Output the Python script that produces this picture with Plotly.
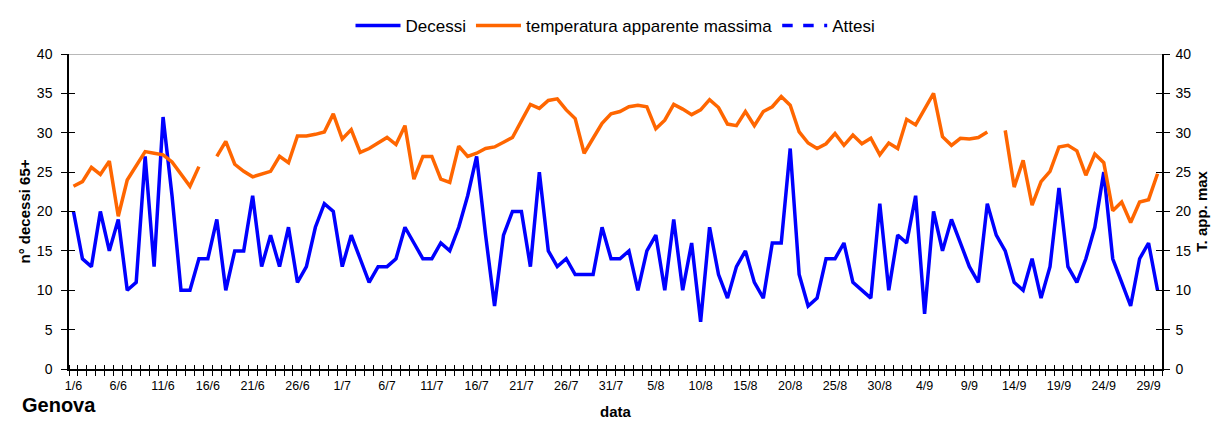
import pandas as pd
import plotly.graph_objects as go

dates = pd.date_range("2003-06-01", "2003-09-30", freq="D")

decessi = [20, 14, 13, 20, 15, 19, 10, 11, 27, 13,
           32, 22, 10, 10, 14, 14, 19, 10, 15, 15,
           22, 13, 17, 13, 18, 11, 13, 18, 21, 20,
           13, 17, 14, 11, 13, 13, 14, 18, 16, 14,
           14, 16, 15, 18, 22, 27, 17, 8, 17, 20,
           20, 13, 25, 15, 13, 14, 12, 12, 12, 18,
           14, 14, 15, 10, 15, 17, 10, 19, 10, 16,
           6, 18, 12, 9, 13, 15, 11, 9, 16, 16,
           28, 12, 8, 9, 14, 14, 16, 11, 10, 9,
           21, 10, 17, 16, 22, 7, 20, 15, 19, 16,
           13, 11, 21, 17, 15, 11, 10, 14, 9, 13,
           23, 13, 11, 14, 18, 25, 14, 11, 8, 14,
           16, 10]

temperatura = [23.2, 23.8, 25.6, 24.7, 26.4, 19.4, 24.0, 25.8, 27.6, 27.4,
               27.2, 26.3, 24.8, 23.2, 25.7, None, 27.0, 28.9, 26.0, 25.1,
               24.4, 24.7, 25.1, 27.0, 26.2, 29.6, 29.6, 29.8, 30.1, 32.4,
               29.2, 30.4, 27.5, 28.0, 28.7, 29.4, 28.5, 30.9, 24.1, 27.0,
               27.0, 24.1, 23.7, 28.3, 27.0, 27.4, 28.0, 28.2, 28.8, 29.4,
               31.5, 33.6, 33.1, 34.1, 34.3, 32.9, 31.8, 27.4, 29.3, 31.2,
               32.4, 32.7, 33.3, 33.5, 33.3, 30.5, 31.6, 33.6, 33.0, 32.3,
               32.9, 34.2, 33.2, 31.1, 30.9, 32.7, 30.9, 32.7, 33.3, 34.6,
               33.5, 30.1, 28.7, 28.0, 28.6, 29.9, 28.4, 29.7, 28.6, 29.3,
               27.2, 28.7, 28.0, 31.7, 31.0, 33.1, 35.0, 29.5, 28.4, 29.3,
               29.2, 29.4, 30.1, None, 30.3, 23.1, 26.5, 20.8, 23.8, 25.1,
               28.2, 28.4, 27.7, 24.6, 27.3, 26.2, 20.1, 21.2, 18.6, 21.2,
               21.5, 24.8]

attesi = [None]

FONT = "Liberation Sans, Arial, sans-serif"
BLUE = "#0000FF"
ORANGE = "#FF6600"

fig = go.Figure()
fig.add_trace(go.Scatter(x=dates, y=decessi, name="Decessi", mode="lines",
                         line=dict(color=BLUE, width=3.5), yaxis="y"))
fig.add_trace(go.Scatter(x=dates, y=temperatura, name="temperatura apparente massima",
                         mode="lines", connectgaps=False,
                         line=dict(color=ORANGE, width=3.5), yaxis="y2"))
fig.add_trace(go.Scatter(x=[dates[0]], y=attesi, name="Attesi", mode="lines",
                         line=dict(color=BLUE, width=3.5, dash="dash"), yaxis="y"))
# helper (empty) traces so the inside-tick overlay axes are drawn
fig.add_trace(go.Scatter(x=[None], y=[None], xaxis="x2", yaxis="y3",
                         showlegend=False, hoverinfo="skip"))
fig.add_trace(go.Scatter(x=[None], y=[None], xaxis="x2", yaxis="y4",
                         showlegend=False, hoverinfo="skip"))

half_day = pd.Timedelta(hours=12)
x0 = dates[0] - half_day
x1 = dates[-1] + half_day
DAY = 86400000

fig.update_layout(
    width=1219, height=417,
    margin=dict(l=61, r=65, t=46, b=56, autoexpand=False),
    plot_bgcolor="white", paper_bgcolor="white",
    font=dict(family=FONT, color="black", size=13),
    showlegend=True,
    legend=dict(orientation="h", x=0.5, xanchor="center", y=1.146, yanchor="top",
                font=dict(size=17, family=FONT), tracegroupgap=0, itemwidth=45,
                bgcolor="rgba(0,0,0,0)"),
    xaxis=dict(
        type="date", range=[x0, x1], automargin=False,
        tickmode="linear", tick0=dates[0], dtick=5 * DAY,
        tickformat="%-d/%-m", ticks="", ticklen=0, ticklabelstandoff=4,
        tickfont=dict(size=12.5, family=FONT),
        minor=dict(tickmode="linear", tick0=x0, dtick=DAY,
                   ticks="outside", ticklen=5, tickcolor="black", tickwidth=1,
                   showgrid=False),
        showgrid=False, zeroline=False,
        showline=True, linecolor="black", linewidth=1.5,
        title=dict(text="<b>data</b>", font=dict(size=15, family=FONT), standoff=15),
    ),
    xaxis2=dict(
        type="date", range=[x0, x1], overlaying="x", side="bottom", anchor="y",
        automargin=False, showticklabels=False, ticks="", ticklen=0,
        tickmode="linear", tick0=dates[0], dtick=5 * DAY,
        minor=dict(tickmode="linear", tick0=x0, dtick=DAY,
                   ticks="inside", ticklen=4, tickcolor="black", tickwidth=1,
                   showgrid=False),
        showgrid=False, zeroline=False, showline=False,
    ),
    yaxis=dict(
        range=[0, 40], dtick=5, tick0=0, automargin=False,
        ticks="outside", ticklen=6, tickcolor="black", ticklabelstandoff=6,
        tickfont=dict(size=14, family=FONT),
        showgrid=False, zeroline=False,
        showline=True, linecolor="black", linewidth=1.5,
        title=dict(text="<b>n° decessi 65+</b>", font=dict(size=15, family=FONT), standoff=3),
    ),
    yaxis2=dict(
        range=[0, 40], dtick=5, tick0=0, overlaying="y", side="right", automargin=False,
        ticks="outside", ticklen=6, tickcolor="black", ticklabelstandoff=3,
        tickfont=dict(size=14, family=FONT),
        showgrid=False, zeroline=False,
        showline=True, linecolor="black", linewidth=1.5,
        title=dict(text="<b>T. app. max</b>", font=dict(size=15, family=FONT), standoff=6),
    ),
    yaxis3=dict(
        range=[0, 40], dtick=5, tick0=0, overlaying="y", side="left", anchor="x",
        automargin=False, showticklabels=False,
        ticks="inside", ticklen=6, tickcolor="black",
        showgrid=False, zeroline=False, showline=False,
    ),
    yaxis4=dict(
        range=[0, 40], dtick=5, tick0=0, overlaying="y", side="right", anchor="x",
        automargin=False, showticklabels=False,
        ticks="inside", ticklen=6, tickcolor="black",
        showgrid=False, zeroline=False, showline=False,
    ),
    shapes=[dict(type="line", xref="paper", x0=0, x1=1, yref="y", y0=40, y1=40,
                 line=dict(color="#A0A0A0", width=1.5), layer="below")],
    annotations=[dict(text="<b>Genova</b>", xref="paper", yref="paper",
                      x=-0.0448, y=-0.114, xanchor="left", yanchor="middle",
                      showarrow=False, font=dict(size=20, family=FONT))],
)

fig.write_html("out.html")
